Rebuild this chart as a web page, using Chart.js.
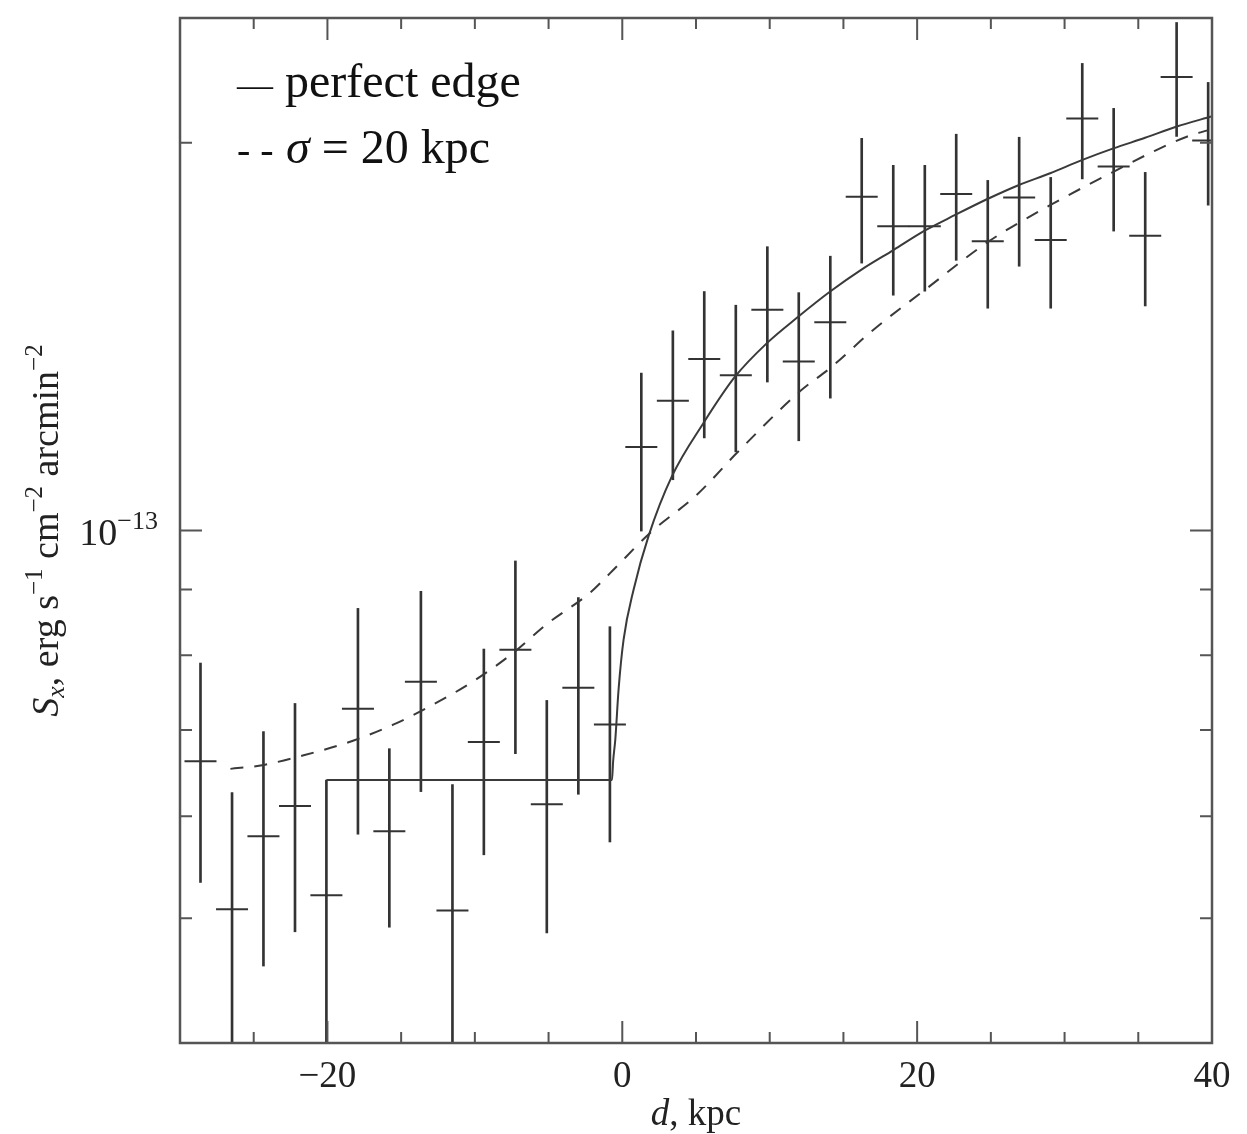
<!DOCTYPE html>
<html>
<head>
<meta charset="utf-8">
<script src="https://cdn.jsdelivr.net/npm/chart.js@4.4.1/dist/chart.umd.min.js"></script>
<style>
    html, body { margin: 0; padding: 0; background: #fff; }
    #wrap { width: 1247px; height: 1134px; position: relative; }
</style>
</head>
<body>
<div id="wrap"><canvas id="edgeChart"></canvas></div>
<script>
// distancia ao longo do perfil (kpc)
const dKpc = [-28.61, -26.47, -24.34, -22.20, -20.07, -17.93, -15.80, -13.66, -11.52, -9.39, -7.25,
    -5.12, -2.98, -0.84, 1.29, 3.43, 5.56, 7.70, 9.84, 11.97, 14.11, 16.24, 18.38, 20.52, 22.65,
    24.79, 26.92, 29.06, 31.20, 33.33, 35.47, 37.60, 39.74];

// brilho superficial e barras de erro
const sxValue = [6.62e-14, 5.08e-14, 5.79e-14, 6.11e-14, 5.21e-14, 7.27e-14, 5.84e-14, 7.63e-14,
    5.07e-14, 6.85e-14, 8.08e-14, 6.13e-14, 7.55e-14, 7.07e-14, 1.161e-13, 1.261e-13, 1.359e-13,
    1.320e-13, 1.484e-13, 1.353e-13, 1.451e-13, 1.816e-13, 1.723e-13, 1.723e-13, 1.825e-13,
    1.677e-13, 1.814e-13, 1.681e-13, 2.089e-13, 1.917e-13, 1.694e-13, 2.250e-13, 2.008e-13];
const sxLow = [5.33e-14, 3.8e-14, 4.59e-14, 4.88e-14, 3.8e-14, 5.81e-14, 4.92e-14, 6.27e-14,
    3.8e-14, 5.60e-14, 6.71e-14, 4.87e-14, 6.24e-14, 5.73e-14, 9.99e-14, 1.095e-13, 1.180e-13,
    1.151e-13, 1.304e-13, 1.174e-13, 1.267e-13, 1.613e-13, 1.523e-13, 1.534e-13, 1.621e-13,
    1.488e-13, 1.604e-13, 1.488e-13, 1.875e-13, 1.708e-13, 1.494e-13, 2.023e-13, 1.789e-13];
const sxHigh = [7.89e-14, 6.26e-14, 6.98e-14, 7.34e-14, 6.40e-14, 8.70e-14, 6.77e-14, 8.97e-14,
    6.35e-14, 8.09e-14, 9.47e-14, 7.38e-14, 8.87e-14, 8.42e-14, 1.325e-13, 1.429e-13, 1.533e-13,
    1.496e-13, 1.661e-13, 1.530e-13, 1.633e-13, 2.016e-13, 1.921e-13, 1.921e-13, 2.031e-13,
    1.870e-13, 2.020e-13, 1.880e-13, 2.305e-13, 2.127e-13, 1.897e-13, 2.480e-13, 2.228e-13];

// modelo "perfect edge"
const edgeD = [-20.07, -0.70, -0.62, -0.47, -0.25, 0.09, 0.77, 1.78, 3.37, 5.51, 7.66, 9.81, 11.95,
    14.10, 16.25, 18.39, 20.54, 22.58, 24.73, 26.87, 29.02, 31.17, 33.31, 35.46, 37.61, 40.0];
const edgeSx = [6.40e-14, 6.40e-14, 6.62e-14, 6.89e-14, 7.53e-14, 8.23e-14, 9.00e-14, 9.90e-14,
    1.102e-13, 1.212e-13, 1.317e-13, 1.398e-13, 1.466e-13, 1.533e-13, 1.595e-13, 1.651e-13,
    1.710e-13, 1.758e-13, 1.808e-13, 1.854e-13, 1.894e-13, 1.939e-13, 1.980e-13, 2.018e-13,
    2.059e-13, 2.097e-13];

// modelo suavizado, sigma = 20 kpc
const smoothD = [-26.58, -24.54, -21.61, -18.22, -15.50, -12.79, -10.08, -7.37, -5.11, -2.17, -0.81,
    1.90, 5.06, 7.78, 12.07, 14.10, 17.04, 20.54, 24.83, 29.02, 33.31, 36.02, 38.29, 39.70];
const smoothSx = [6.53e-14, 6.57e-14, 6.69e-14, 6.87e-14, 7.07e-14, 7.33e-14, 7.64e-14, 8.04e-14,
    8.46e-14, 8.95e-14, 9.27e-14, 9.96e-14, 1.066e-13, 1.149e-13, 1.283e-13, 1.337e-13, 1.432e-13,
    1.538e-13, 1.676e-13, 1.789e-13, 1.899e-13, 1.969e-13, 2.022e-13, 2.045e-13];

// ticks
const xMajorTicks = [-20, 0, 20, 40];
const xMinorTicks = [-25, -15, -10, -5, 5, 10, 15, 25, 30, 35];
const yMajorTicks = [1e-13];
const yMinorTicks = [5e-14, 6e-14, 7e-14, 8e-14, 9e-14, 2e-13];

const SERIF = '"Liberation Serif", "Times New Roman", serif';
const INK = '#333';
const AXIS = '#555';

// desenha partes de texto (normal / italico / sobrescrito) em sequencia
function drawRich(ctx, parts, x, y, align) {
    let total = 0;
    parts.forEach(p => {
        ctx.font = p.font;
        p.w = ctx.measureText(p.text).width;
        total += p.w;
    });
    let cx = align === 'center' ? x - total / 2 : (align === 'right' ? x - total : x);
    parts.forEach(p => {
        ctx.font = p.font;
        ctx.fillText(p.text, cx, y + (p.dy || 0));
        cx += p.w;
    });
}

const framePlugin = {
    id: 'frame',
    afterDraw(chart) {
        const { ctx, chartArea: a, scales } = chart;
        const xs = scales.x, ys = scales.y;

        ctx.save();
        ctx.strokeStyle = AXIS;
        ctx.lineWidth = 2.5;
        ctx.strokeRect(a.left, a.top, a.right - a.left, a.bottom - a.top);

        ctx.lineWidth = 2;
        const tickX = (vals, len) => vals.forEach(v => {
            const px = xs.getPixelForValue(v);
            ctx.beginPath();
            ctx.moveTo(px, a.bottom); ctx.lineTo(px, a.bottom - len);
            ctx.moveTo(px, a.top); ctx.lineTo(px, a.top + len);
            ctx.stroke();
        });
        const tickY = (vals, len) => vals.forEach(v => {
            const py = ys.getPixelForValue(v);
            ctx.beginPath();
            ctx.moveTo(a.left, py); ctx.lineTo(a.left + len, py);
            ctx.moveTo(a.right, py); ctx.lineTo(a.right - len, py);
            ctx.stroke();
        });
        tickX(xMajorTicks, 22);
        tickX(xMinorTicks, 11);
        tickY(yMajorTicks, 22);
        tickY(yMinorTicks, 12);

        ctx.fillStyle = '#222';
        ctx.textBaseline = 'alphabetic';

        // rotulo do eixo y: 10^-13
        const y13 = ys.getPixelForValue(1e-13);
        drawRich(ctx, [
            { text: '10', font: `38px ${SERIF}` },
            { text: '\u221213', font: `26px ${SERIF}`, dy: -16 }
        ], a.left - 22, y13 + 14, 'right');

        // titulo do eixo x
        drawRich(ctx, [
            { text: 'd', font: `italic 37px ${SERIF}` },
            { text: ', kpc', font: `37px ${SERIF}` }
        ], (a.left + a.right) / 2, 1125, 'center');

        // titulo do eixo y (rotacionado)
        ctx.save();
        ctx.translate(58, (a.top + a.bottom) / 2);
        ctx.rotate(-Math.PI / 2);
        drawRich(ctx, [
            { text: 'S', font: `italic 38px ${SERIF}` },
            { text: 'x', font: `italic 26px ${SERIF}`, dy: 6 },
            { text: ', erg s', font: `38px ${SERIF}` },
            { text: '\u22121', font: `25px ${SERIF}`, dy: -16 },
            { text: ' cm', font: `38px ${SERIF}` },
            { text: '\u22122', font: `25px ${SERIF}`, dy: -16 },
            { text: ' arcmin', font: `38px ${SERIF}` },
            { text: '\u22122', font: `25px ${SERIF}`, dy: -16 }
        ], 0, 0, 'center');
        ctx.restore();

        // legenda
        ctx.fillStyle = '#111';
        ctx.font = `36px ${SERIF}`;
        ctx.fillText('\u2014', 237, 97);
        ctx.font = `48px ${SERIF}`;
        ctx.fillText('perfect edge', 285, 97);
        ctx.font = `40px ${SERIF}`;
        ctx.fillText('- -', 237, 163);
        drawRich(ctx, [
            { text: '\u03c3', font: `italic 48px ${SERIF}` },
            { text: ' = 20 kpc', font: `48px ${SERIF}` }
        ], 286, 163, 'left');

        ctx.restore();
    }
};

const ctx = document.getElementById('edgeChart');

new Chart(ctx, {
    type: 'scatter',
    data: {
        datasets: [
            {
                label: 'perfect edge',
                data: edgeD.map((d, i) => ({ x: d, y: edgeSx[i] })),
                showLine: true,
                borderColor: '#3a3a3a',
                borderWidth: 2,
                pointRadius: 0,
                cubicInterpolationMode: 'monotone'
            },
            {
                label: 'sigma = 20 kpc',
                data: smoothD.map((d, i) => ({ x: d, y: smoothSx[i] })),
                showLine: true,
                borderColor: '#3a3a3a',
                borderWidth: 2,
                borderDash: [13, 11],
                pointRadius: 0,
                cubicInterpolationMode: 'monotone'
            },
            {
                label: 'dados',
                data: dKpc.map((d, i) => ({ x: d, y: sxValue[i] })),
                pointStyle: 'line',
                pointRadius: 16,
                pointBorderWidth: 2,
                pointBorderColor: INK,
                pointBackgroundColor: INK,
                clip: 0
            },
            {
                type: 'bar',
                label: 'erros',
                data: dKpc.map((d, i) => ({ x: d, y: [sxLow[i], sxHigh[i]] })),
                backgroundColor: INK,
                borderWidth: 0,
                barThickness: 2
            }
        ]
    },
    options: {
        responsive: true,
        maintainAspectRatio: false,
        animation: false,
        events: [],
        layout: { padding: { top: 13, right: 35, left: 0, bottom: 0 } },
        plugins: {
            legend: { display: false },
            tooltip: { enabled: false }
        },
        scales: {
            x: {
                type: 'linear',
                min: -30,
                max: 40,
                offset: false,
                grid: { display: false, drawTicks: false },
                border: { display: false },
                afterBuildTicks: s => { s.ticks = xMajorTicks.map(v => ({ value: v })); },
                afterFit: s => { s.height = 91; },
                ticks: {
                    padding: 12,
                    color: '#222',
                    font: { family: SERIF, size: 37 },
                    maxRotation: 0,
                    callback: v => String(v).replace('-', '\u2212')
                }
            },
            y: {
                type: 'logarithmic',
                min: 4e-14,
                max: 2.5e-13,
                grid: { display: false, drawTicks: false },
                border: { display: false },
                ticks: { display: false },
                afterFit: s => { s.width = 180; }
            }
        }
    },
    plugins: [framePlugin]
});
</script>
</body>
</html>
